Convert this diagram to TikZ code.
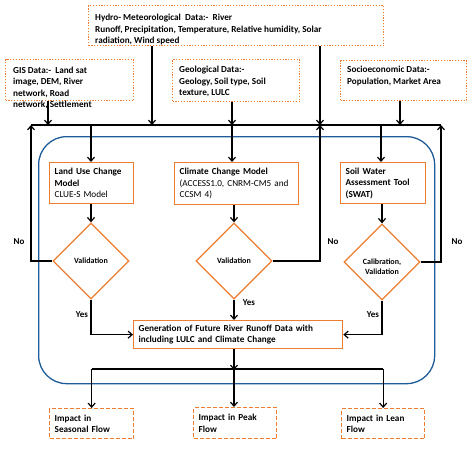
\documentclass[tikz,border=0pt]{standalone}
\usepackage{fontspec}
\setmainfont{Carlito}
\usetikzlibrary{shapes.geometric,arrows.meta,calc}
\definecolor{org}{RGB}{237,125,49}
\definecolor{blu}{RGB}{31,92,153}
\begin{document}
\begin{tikzpicture}[x=1pt,y=-1pt,
  txt/.style={font=\bfseries\fontsize{9.2}{11.5}\selectfont, align=left, inner sep=0pt, anchor=north west},
  dotbox/.style={draw=org, line width=1.3pt, dash pattern=on 1.2pt off 1.6pt, anchor=north west, inner sep=0pt},
  solbox/.style={draw=org, line width=1.3pt, anchor=north west, inner xsep=5pt, inner ysep=0pt, align=left, font=\fontsize{9.2}{11.5}\selectfont},
  impbox/.style={draw=org, line width=1.3pt, dash pattern=on 4pt off 2pt, anchor=north west, inner xsep=5pt, inner ysep=0pt, align=left, font=\bfseries\fontsize{9.2}{11.5}\selectfont},
  dia/.style={diamond, draw=org, line width=1.3pt, aspect=1, minimum width=76pt, minimum height=76pt, inner sep=0pt, align=center, fill=white, font=\bfseries\fontsize{8}{10}\selectfont},
  dtxt/.style={align=center, inner sep=0pt, font=\bfseries\fontsize{8}{10}\selectfont},
  lbl/.style={font=\bfseries\fontsize{9}{10}\selectfont, inner sep=0pt},
  ln/.style={line width=1.2pt, black},
  arr/.style={ln, -{Straight Barb[length=4pt,width=7pt]}}
]
\useasboundingbox (0,0) rectangle (474,450);
\fill[white] (0,0) rectangle (474,450);

% frame
\node[draw=blu, line width=1.3pt, rounded corners=28pt, minimum width=396pt, minimum height=247pt, anchor=north west, inner sep=0pt] (frame) at (38,136) {};

% top data boxes
\node[dotbox, minimum width=295pt, minimum height=40pt] (hydro) at (88,5) {};
\node[txt] (hydroT) at (95,14) {Hydro- Meteorological\ \ Data:-\ \ River\\Runoff, Precipitation, Temperature, Relative humidity, Solar\\radiation, Wind speed};
\node[dotbox, minimum width=128pt, minimum height=41pt] (gis) at (5,59) {};
\node[txt] (gisT) at (13,66.5) {GIS Data:-\ \ Land sat\\image, DEM, River\\network, Road\\network, Settlement};
\node[dotbox, minimum width=127pt, minimum height=42pt] (geo) at (172,59) {};
\node[txt] (geoT) at (179,66) {Geological Data:-\\Geology, Soil type, Soil\\texture, LULC};
\node[dotbox, minimum width=126pt, minimum height=40pt] (soc) at (340,60) {};
\node[txt] (socT) at (347,66) {Socioeconomic Data:-\\Population, Market Area};

% bus coordinates
\coordinate (bL) at (31,125);
\coordinate (bR) at (441,125);
\coordinate (b1) at (48,125);
\coordinate (b2) at (152,125);
\coordinate (b3) at (232,125);
\coordinate (b4) at (320,125);
\coordinate (b5) at (400,125);
\coordinate (bLU) at (91,125);
\coordinate (bSW) at (381,125);
\draw[ln] (bL) -- (bR);

\draw[arr] (gis.south -| b1) -- (b1);
\draw[arr] (hydro.south -| b2) -- (b2);
\draw[arr] (geo.south -| b3) -- (b3);
\draw[arr] (hydro.south -| b4) -- (b4);
\draw[arr] (soc.south -| b5) -- (b5);

% model boxes
\node[solbox, minimum width=84pt, minimum height=41pt, text width=74pt] (lu) at (49,162) {\textbf{Land Use Change}\\\textbf{Model}\\CLUE-S Model};
\node[solbox, minimum width=124pt, minimum height=42pt, text width=114pt] (cc) at (174,162) {\textbf{Climate Change Model}\\(ACCESS1.0, CNRM-CM5 and\\CCSM 4)};
\node[solbox, minimum width=85pt, minimum height=41pt, text width=75pt] (sw) at (340,162) {\textbf{Soil Water}\\\textbf{Assessment Tool}\\\textbf{(SWAT)}};

\draw[arr] (bLU) -- (bLU |- lu.north);
\draw[arr] (b3) -- (b3 |- cc.north);
\draw[arr] (bSW) -- (bSW |- sw.north);

% diamonds
\node[dia] (d1) at (91,261) {Validation};
\node[dia] (d2) at (234,261) {Validation};
\node[dia] (d3) at (382,262) {};
\node[dtxt] (d3T) at (382,267) {Calibration,\\Validation};

\draw[arr] (lu.south -| d1.north) -- (d1.north);
\draw[arr] (cc.south -| d2.north) -- (d2.north);
\draw[arr] (sw.south -| d3.north) -- (d3.north);

% No loops
\draw[arr] (d1.west) -| (bL);
\draw[arr] (d2.east) -| (b4);
\draw[arr] (d3.east) -| (bR);
\node[lbl] (no1) at (19,242) {No};
\node[lbl] (no2) at (333,242) {No};
\node[lbl] (no3) at (457,242) {No};

% generation box
\node[solbox, font=\bfseries\fontsize{9.2}{11.5}\selectfont, minimum width=209pt, minimum height=28pt, text width=199pt] (gen) at (133,320) {Generation of Future River Runoff Data with\\including LULC and Climate Change};

\draw[arr] (d1.south) |- (gen.west);
\draw[arr] (d2.south) -- (d2.south |- gen.north);
\draw[arr] (d3.south) |- (gen.east);
\node[lbl] (yes1) at (82,315) {Yes};
\node[lbl] (yes2) at (249,303) {Yes};
\node[lbl] (yes3) at (373,315) {Yes};

% impacts
\node[impbox, minimum width=84pt, minimum height=30pt, text width=74pt] (imp1) at (49,408) {Impact in\\Seasonal Flow};
\node[impbox, minimum width=83pt, minimum height=31pt, text width=73pt] (imp2) at (193,407) {Impact in Peak\\Flow};
\node[impbox, minimum width=83pt, minimum height=30pt, text width=73pt] (imp3) at (341,408) {Impact in Lean\\Flow};

\coordinate (split) at (234,369);
\draw[arr] (gen.south -| split) -- ([yshift=-1pt]split);
\draw[ln] (split -| imp1.north) -- (split -| imp3.north);
\draw[arr] (split -| imp1.north) -- (imp1.north);
\draw[arr] (split) -- (split |- imp2.north);
\draw[arr] (split -| imp3.north) -- (imp3.north);
\end{tikzpicture}
\end{document}
